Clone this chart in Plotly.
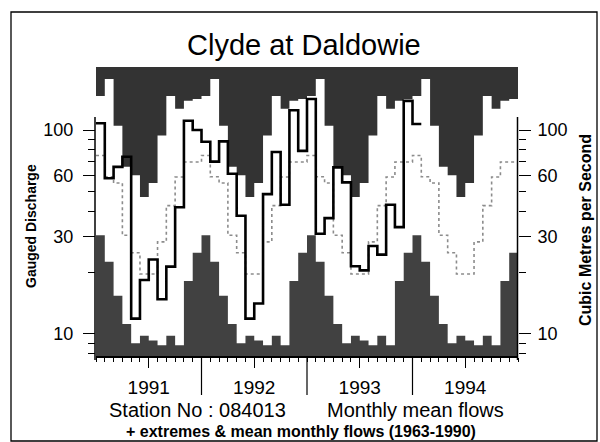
import math
import plotly.graph_objects as go

# ---------------- data ----------------
years = ["1991", "1992", "1993", "1994"]
# extremes & mean monthly flows 1963-1990 (Jan..Dec), m3/s
month_max = [147, 178, 105, 66, 60, 47, 55, 94, 147, 127, 139, 142]
month_min = [30.5, 22.6, 15.4, 11.2, 9.0, 9.8, 9.3, 8.8, 9.8, 8.8, 18.2, 25.0]
month_mean = [75, 59, 55, 30.5, 25, 19.7, 19.7, 28.3, 42.6, 58.8, 69.7, 69.7]
# monthly mean flows
flows_1991 = [108, 58, 66, 74, 11.9, 18.4, 23.2, 14.8, 21.4, 41.8, 111, 100]
flows_1992 = [87.6, 70, 88, 61, 38, 11.9, 14.1, 48.5, 78, 43, 125, 79]
flows_1993 = [142, 31, 37, 65.6, 55.4, 21.5, 20.5, 27, 24.5, 43, 33.4, 139]
flows_1994 = [107]
major_ticks = [10, 30, 60, 100]
minor_ticks = [8, 9, 20, 40, 50, 70, 80, 90]

# ---------------- geometry ----------------
W, H = 600, 442
L, R, T, B = 96, 518, 67, 356
ylo, yhi = math.log10(7.8), math.log10(203.7)

def px(x):
    return (x - L) / (R - L)

def py(y):
    return (B - y) / (B - T)

nyears = len(years)
nmonths = 12 * nyears
xs = list(range(nmonths + 1))

def steps(vals):
    return vals + [vals[-1]]

maxv = steps(month_max * nyears)
minv = steps(month_min * nyears)
meanv = steps(month_mean * nyears)
flows = flows_1991 + flows_1992 + flows_1993 + flows_1994
fx = list(range(len(flows) + 1))
fy = steps(flows)

FONT = "Liberation Sans, Arial, Helvetica, sans-serif"
TOPC = "#333333"
BOTC = "#414141"

fig = go.Figure()
# top dark region (above historical max)
fig.add_trace(go.Scatter(x=xs, y=maxv, mode="lines", line=dict(width=0, shape="hv"),
                         hoverinfo="skip", showlegend=False))
fig.add_trace(go.Scatter(x=xs, y=[1000] * len(xs), mode="lines", line=dict(width=0),
                         fill="tonexty", fillcolor=TOPC, hoverinfo="skip", showlegend=False))
# bottom dark region (below historical min)
fig.add_trace(go.Scatter(x=xs, y=[1] * len(xs), mode="lines", line=dict(width=0),
                         hoverinfo="skip", showlegend=False))
fig.add_trace(go.Scatter(x=xs, y=minv, mode="lines", line=dict(width=0, shape="hv"),
                         fill="tonexty", fillcolor=BOTC, hoverinfo="skip", showlegend=False))
# mean monthly flows (dotted grey)
fig.add_trace(go.Scatter(x=xs, y=meanv, mode="lines",
                         line=dict(color="#8c8c8c", width=1.6, dash="dot", shape="hv"),
                         showlegend=False))
# monthly mean flows (thick black)
fig.add_trace(go.Scatter(x=fx, y=fy, mode="lines",
                         line=dict(color="black", width=2.6, shape="hv"),
                         showlegend=False))
# invisible trace so the right axis is drawn
fig.add_trace(go.Scatter(x=[0], y=[10], yaxis="y2", mode="markers",
                         marker=dict(opacity=0), hoverinfo="skip", showlegend=False))

yaxis_common = dict(
    type="log", range=[ylo, yhi], showgrid=False, zeroline=False, showline=False,
    tickmode="array", tickvals=major_ticks, ticktext=[str(v) for v in major_ticks],
    ticks="outside", ticklen=12, tickwidth=1.3, tickcolor="black",
    tickfont=dict(family=FONT, size=18, color="black"),
    minor=dict(tickmode="array", tickvals=minor_ticks, ticks="outside", ticklen=7,
               tickwidth=1.3, tickcolor="black", showgrid=False),
    fixedrange=True,
)

fig.update_layout(
    width=W, height=H,
    margin=dict(l=L, r=W - R, t=T, b=H - B, pad=0),
    paper_bgcolor="white", plot_bgcolor="white",
    xaxis=dict(range=[0, nmonths], showgrid=False, zeroline=False, fixedrange=True,
               showline=True, linecolor="black", linewidth=1.5,
               tickmode="array", tickvals=[12 * i + 6 for i in range(nyears)],
               ticktext=years, ticks="outside", ticklen=10, tickwidth=1.2,
               tickcolor="black", ticklabelstandoff=3,
               tickfont=dict(family=FONT, size=19, color="black"),
               minor=dict(tickmode="array", tickvals=xs, ticks="outside", ticklen=4,
                          tickwidth=1, tickcolor="black", showgrid=False)),
    yaxis=dict(**yaxis_common, side="left", ticklabelstandoff=6),
    yaxis2=dict(**yaxis_common, side="right", overlaying="y", ticklabelstandoff=3),
    showlegend=False,
)

shapes = []
# outer frame
shapes.append(dict(type="rect", xref="paper", yref="paper",
                   x0=px(11), x1=px(597), y0=py(441), y1=py(12),
                   line=dict(color="black", width=1.3), fillcolor="rgba(0,0,0,0)", layer="above"))
# y axis lines (only from the bottom up to ~116)
for xp in (px(95), px(517.5)):
    shapes.append(dict(type="line", xref="paper", yref="paper",
                       x0=xp, x1=xp, y0=py(360), y1=py(117),
                       line=dict(color="black", width=1.5), layer="above"))
# year separators below the axis
for i in range(1, nyears):
    shapes.append(dict(type="line", xref="x", yref="paper",
                       x0=12 * i, x1=12 * i, y0=0, y1=py(395),
                       line=dict(color="black", width=1.2), layer="above"))
fig.update_layout(shapes=shapes)

ann = []
ann.append(dict(text="Clyde at Daldowie", x=px(304), y=py(45), xref="paper", yref="paper",
                xanchor="center", yanchor="middle", showarrow=False,
                font=dict(family=FONT, size=29, color="black")))
ann.append(dict(text="Gauged Discharge", x=px(31), y=py(226), xref="paper", yref="paper",
                xanchor="center", yanchor="middle", textangle=-90, showarrow=False,
                font=dict(family=FONT, size=14, color="black", weight="bold")))
ann.append(dict(text="Cubic Metres per Second", x=px(585), y=py(230), xref="paper", yref="paper",
                xanchor="center", yanchor="middle", textangle=-90, showarrow=False,
                font=dict(family=FONT, size=16, color="black", weight="bold")))
ann.append(dict(text="Station No : 084013", x=px(107), y=py(410), xref="paper", yref="paper",
                xanchor="left", yanchor="middle", showarrow=False,
                font=dict(family=FONT, size=20, color="black")))
ann.append(dict(text="Monthly mean flows", x=px(506), y=py(410), xref="paper", yref="paper",
                xanchor="right", yanchor="middle", showarrow=False,
                font=dict(family=FONT, size=20, color="black")))
ann.append(dict(text="+ extremes & mean monthly flows (1963-1990)", x=px(301), y=py(431),
                xref="paper", yref="paper", xanchor="center", yanchor="middle", showarrow=False,
                font=dict(family=FONT, size=16, color="black", weight="bold")))
fig.update_layout(annotations=ann)

fig.write_html("out.html", config={"displayModeBar": False},
               post_script="document.body.style.margin='0';document.body.style.overflow='hidden';")
